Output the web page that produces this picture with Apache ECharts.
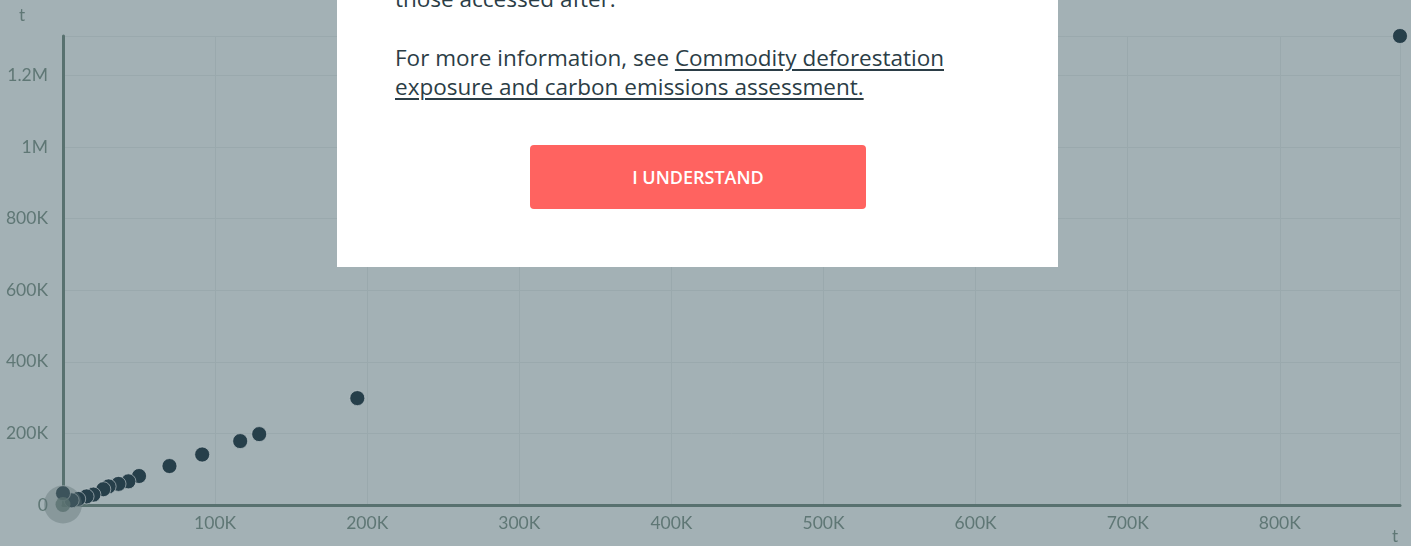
<!DOCTYPE html>
<html>
<head>
<meta charset="utf-8">
<script src="https://cdn.jsdelivr.net/npm/echarts@6/dist/echarts.min.js"></script>
<style>
  html, body { margin:0; padding:0; width:1411px; height:546px; overflow:hidden; background:#a3b1b5; }
  #chart { position:absolute; left:0; top:0; width:1411px; height:546px; }
  #modal { position:absolute; left:337px; top:0; width:721px; height:267px; background:#ffffff; z-index:5; overflow:hidden; font-family:"Open Sans","Noto Sans",sans-serif; color:#2b3d46; }
  #modal p { position:absolute; left:58px; margin:0; font-size:22.5px; line-height:29px; letter-spacing:0; white-space:nowrap; }
  #modal a { color:#2b3d46; text-decoration:underline; text-underline-offset:3px; text-decoration-thickness:1.5px; }
  #btn { position:absolute; left:193px; top:145px; width:336px; height:64px; background:#ff6360; border-radius:4px; color:#fff; font-family:"Open Sans",sans-serif; font-weight:600; font-size:18px; line-height:64px; text-align:center; }
</style>
</head>
<body>
<div id="chart"></div>
<div id="modal">
  <p style="top:-16px;">those accessed after.</p>
  <p style="top:43px;">For more information, see <a>Commodity deforestation<br>exposure and carbon emissions assessment.</a></p>
  <div id="btn">I UNDERSTAND</div>
</div>
<script>
const xValues = [879000, 193500, 129000, 116500, 91500, 70000, 50000, 43000, 36500, 30000, 26500, 20000, 15500, 10000, 5700, 0];
const yValues = [1310000, 298500, 198000, 178500, 141000, 108800, 81000, 66000, 59000, 52000, 44000, 29000, 24000, 17000, 13000, 33000];
const highlightX = [0];
const highlightY = [1500];
const unitName = 't';

function fmt(v) {
  if (v === 0) return '0';
  if (v >= 1000000) return (v / 1000000) + 'M';
  return (v / 1000) + 'K';
}

const chart = echarts.init(document.getElementById('chart'), null, { renderer: 'canvas' });
const labelColor = '#5f7775';
const axisColor = '#58716f';
const gridColor = '#9aa9ad';
chart.setOption({
  animation: false,
  backgroundColor: '#a3b1b5',
  grid: { left: 63, right: 11, top: 36, bottom: 41, containLabel: false },
  xAxis: {
    type: 'value', min: 0, max: 'dataMax', interval: 100000,
    name: unitName, nameLocation: 'end', nameGap: -5,
    nameTextStyle: { color: labelColor, fontSize: 17, fontFamily: 'Lato', align: 'center', verticalAlign: 'top', padding: [23, 0, 0, 0] },
    axisLine: { show: true, lineStyle: { color: axisColor, width: 3 } },
    axisTick: { show: false },
    axisLabel: { color: labelColor, fontSize: 17.5, fontFamily: 'Lato', margin: 9, formatter: fmt, showMaxLabel: false, showMinLabel: false },
    splitLine: { show: true, lineStyle: { color: gridColor, width: 1 } }
  },
  yAxis: {
    type: 'value', min: 0, max: 'dataMax', interval: 200000,
    name: unitName, nameLocation: 'end', nameGap: 12,
    nameTextStyle: { color: labelColor, fontSize: 17, fontFamily: 'Lato', align: 'right', padding: [0, 38, 0, 0] },
    axisLine: { show: true, lineStyle: { color: axisColor, width: 3 } },
    axisTick: { show: false },
    axisLabel: { color: labelColor, fontSize: 17.5, fontFamily: 'Lato', margin: 15, formatter: fmt, showMaxLabel: false },
    splitLine: { show: true, lineStyle: { color: gridColor, width: 1 } }
  },
  series: [
    {
      type: 'scatter',
      symbolSize: 15,
      z: 3,
      itemStyle: { color: '#263f4a', borderColor: 'rgba(190,200,203,0.8)', borderWidth: 0.8, opacity: 1 },
      data: xValues.map((x, i) => [x, yValues[i]])
    },
    {
      type: 'scatter',
      symbolSize: 38,
      z: 4,
      itemStyle: { color: 'rgba(95,115,118,0.5)' },
      data: highlightX.map((x, i) => [x, highlightY[i]])
    },
    {
      type: 'scatter',
      symbolSize: 15,
      z: 5,
      itemStyle: { color: '#5a7271' },
      data: highlightX.map((x, i) => [x, highlightY[i]])
    }
  ]
});
</script>
</body>
</html>
